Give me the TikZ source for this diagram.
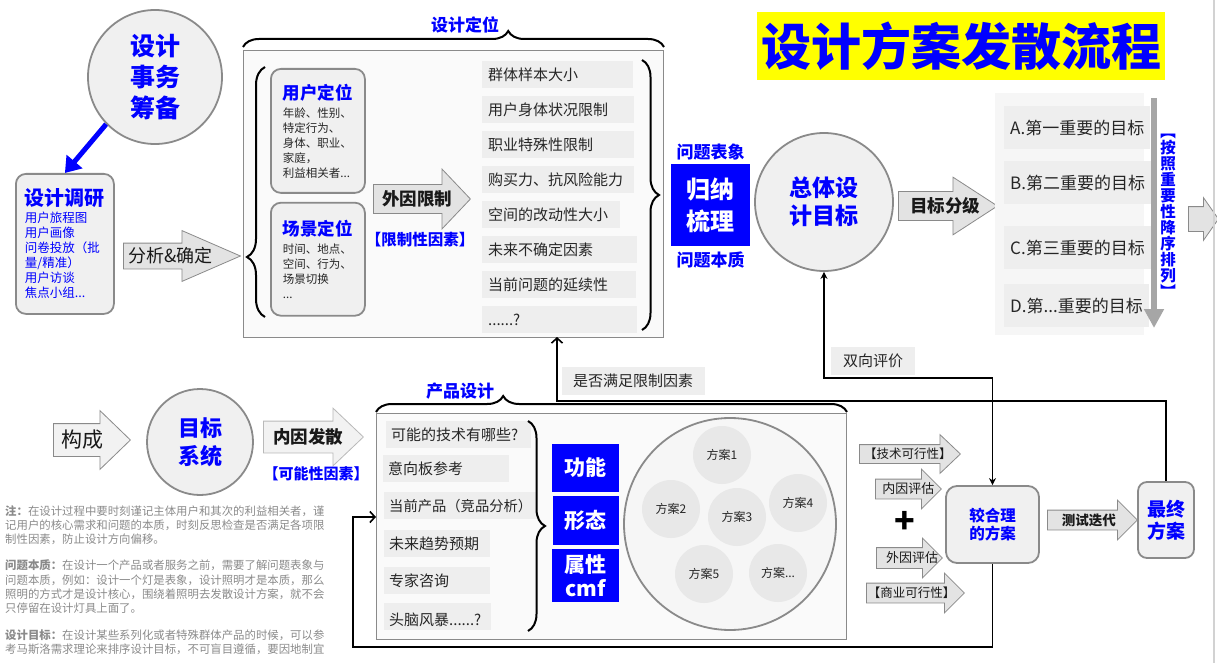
\documentclass[tikz,border=0pt]{standalone}
\usepackage{fontspec}
\setmainfont{Noto Sans CJK SC}
\usetikzlibrary{arrows.meta,positioning,shapes.arrows,decorations.pathreplacing,calc}

\definecolor{edgegray}{HTML}{8A8A8A}
\definecolor{boxgray}{HTML}{F0F0F0}
\definecolor{itemgray}{HTML}{EEEEEE}
\definecolor{panelgray}{HTML}{FAFAFA}
\definecolor{rankfill}{HTML}{F6F6F6}
\definecolor{arrowgray}{HTML}{E3E3E3}
\definecolor{lightarrow}{HTML}{F2F2F2}
\definecolor{sortgray}{HTML}{A6A6A6}
\definecolor{poolfill}{HTML}{F6F6F6}
\definecolor{optfill}{HTML}{E8E8E8}
\definecolor{notegray}{HTML}{8A8A8A}
\definecolor{hlyellow}{HTML}{FFFF00}

\newcommand{\fsz}[2]{\fontsize{#1}{#2}\selectfont}
\newcommand{\tdots}{.\kern0pt.\kern0pt.}

\begin{document}
\begin{tikzpicture}[
    x=1pt, y=-1pt,
    ring/.style={circle, draw=edgegray, line width=1.8pt, fill=boxgray,
                 align=center, text=blue, inner sep=0pt},
    rbox/.style={rectangle, rounded corners=10pt, draw=edgegray, line width=1.8pt,
                 fill=boxgray, align=left, anchor=north west, text=black!85},
    panel/.style={rectangle, draw=edgegray, line width=1pt, fill=panelgray, anchor=north west},
    item/.style={rectangle, fill=itemgray, anchor=north west, align=left, text=black!85,
                 font=\fsz{15}{18}, inner xsep=6pt, inner ysep=0pt},
    bluebox/.style={rectangle, fill=blue, text=white, align=center},
    fatarr/.style n args={3}{single arrow, draw=edgegray, line width=0.8pt, fill=arrowgray,
                 inner sep=0pt, inner ysep=#1, single arrow head extend=#2,
                 single arrow tip angle=#3, anchor=tail},
    arrtxt/.style={inner sep=0pt, text=black!90},
    brc/.style args={#1/#2}{decorate, decoration={brace, amplitude=#1, aspect=#2}, line width=2pt},
    link/.style={line width=1.6pt, -{Stealth[length=7pt, width=7pt]}},
    backlink/.style={line width=1.6pt, -{Straight Barb[length=5pt, width=11pt]}},
    tag/.style={rectangle, fill=itemgray, font=\fsz{15}{18}, minimum height=28pt, text=black!85}
]
    \useasboundingbox (0,0) rectangle (1217,663);

    % title
    \node[fill=hlyellow, minimum width=408pt, minimum height=68pt, inner sep=0pt, text=blue,
          font=\bfseries\fsz{50}{52}] (title) at (961,46) {设计方案发散流程};

    % preparation and research
    \node[ring, minimum size=134pt, font=\bfseries\fsz{25}{31}] (prep) at (155,77) {设计\\事务\\筹备};
    \node[rbox, minimum width=98pt, minimum height=140pt, text=blue, font=\fsz{12.5}{15},
          inner xsep=7pt] (survey) at (15,173)
          {{\bfseries\fsz{20}{24}设计调研}\\[2pt]用户旅程图\\用户画像\\问卷投放（批\\量/精准）\\用户访谈\\焦点小组\tdots};
    \draw[draw=blue, line width=5pt, -{Triangle[length=15pt, width=20pt]}] (prep.224) -- (survey.north);

    \node[fatarr={12.5pt}{12.5pt}{47}, minimum height=117pt] (analyze) at (123,256) {};
    \node[arrtxt, font=\fsz{18}{20}] (analyzetxt) at ($(analyze.tail)!0.4!(analyze.tip)$) {分析\&确定};

    % design positioning
    \node[panel, minimum width=420pt, minimum height=287pt] (posbox) at (243,50) {};
    \draw[brc=16pt/0.63] ([yshift=3pt]posbox.north west) -- ([yshift=3pt]posbox.north east);
    \node[text=blue, font=\bfseries\fsz{17}{20}, inner sep=0pt] (poslbl) at (465,25) {设计定位};

    \node[rbox, minimum width=93pt, minimum height=124pt, font=\fsz{11.5}{15}, inner xsep=12pt] (userpos) at (270,68)
          {{\color{blue}\bfseries\fsz{17.5}{21}用户定位}\\[3pt]年龄、性别、\\特定行为、\\身体、职业、\\家庭，\\利益相关者\tdots};
    \node[rbox, minimum width=94pt, minimum height=113pt, font=\fsz{11.5}{15}, inner xsep=12pt,
          below=8pt of userpos.south west, anchor=north west] (scenepos)
          {{\color{blue}\bfseries\fsz{17.5}{21}场景定位}\\[3pt]时间、地点、\\空间、行为、\\场景切换\\\tdots};
    \draw[brc=18pt/0.24] (265,317) -- (265,67);

    \node[fatarr={14pt}{15.5pt}{93}, minimum height=97pt] (extarr) at (373,199) {};
    \node[arrtxt, font=\bfseries\fsz{17.5}{20}] (exttxt) at ($(extarr.tail)!0.45!(extarr.tip)$) {外因限制};
    \node[text=blue, font=\bfseries\fsz{15.5}{18}, inner sep=0pt] (limittag) at (420,240) {【限制性因素】};

    \foreach \txt/\w [count=\k] in {群体样本大小/139pt, 用户身体状况限制/140pt, 职业特殊性限制/140pt,
        购买力、抗风险能力/140pt, 空间的改动性大小/126pt, 未来不确定因素/143pt,
        当前问题的延续性/142pt, \tdots\tdots?/143pt}
        \node[item, text width=\w, minimum height=27pt] (lim\k) at (482, 26+35*\k) {\txt};
    \draw[brc=17pt/0.5] (642,60) -- (642,330);

    % induction and overall goal
    \node[bluebox, minimum width=79pt, minimum height=82pt, font=\bfseries\fsz{24}{32}] (induce) at (710.5,205) {归纳\\梳理};
    \node[text=blue, font=\bfseries\fsz{17}{20}, inner sep=0pt, above=3pt of induce] (surface) {问题表象};
    \node[text=blue, font=\bfseries\fsz{17}{20}, inner sep=0pt, below=5pt of induce] (essence) {问题本质};

    \node[ring, minimum size=138pt, font=\bfseries\fsz{23}{28}] (goal) at (824,202) {总体设\\计目标};

    \node[fatarr={14pt}{14.5pt}{66}, minimum height=99pt] (rankarr) at (898,206) {};
    \node[arrtxt, font=\bfseries\fsz{17.5}{20}] (ranktxt) at ($(rankarr.tail)!0.47!(rankarr.tip)$) {目标分级};

    \node[rectangle, fill=rankfill, minimum width=149pt, minimum height=242pt, anchor=north west] (rankbox) at (995,93) {};
    \foreach \txt/\top [count=\k] in {A.第一重要的目标/106, B.第二重要的目标/161, C.第三重要的目标/226, D.第\tdots 重要的目标/284}
        \node[item, minimum width=132pt, minimum height=43pt, font=\fsz{17}{20}, align=center] (rank\k) at (1004,\top) {\txt};

    \coordinate (sorttop) at (1154,98);
    \coordinate (sortend) at (1154,328);
    \draw[line width=6pt, draw=sortgray, -{Triangle[length=19pt, width=19pt]}] (sorttop) -- (sortend);
    \node[text=blue, font=\bfseries\fsz{15.5}{16}, align=center, inner sep=0pt] (sorttxt) at (1168,216)
          {︻\\按\\照\\重\\要\\性\\降\\序\\排\\列\\︼};

    \node[fatarr={12pt}{9pt}{110}, minimum height=30pt] (nextarr) at (1188,219) {};
    \draw[gray!35, line width=1.5pt] (1214,0) -- (1214,663);

    % goal system
    \node[fatarr={16pt}{13pt}{88}, minimum height=77pt, fill=lightarrow] (composearr) at (53,440) {};
    \node[arrtxt, font=\fsz{21}{24}] (composetxt) at ($(composearr.tail)!0.38!(composearr.tip)$) {构成};
    \node[ring, minimum size=106pt, font=\bfseries\fsz{22}{28}] (system) at (200,442) {目标\\系统};
    \node[fatarr={15.5pt}{13pt}{87}, minimum height=100pt, fill=lightarrow, draw=edgegray!60] (innerarr) at (263,437) {};
    \node[arrtxt, font=\bfseries\fsz{17.5}{20}] (innertxt) at ($(innerarr.tail)!0.45!(innerarr.tip)$) {内因发散};
    \node[text=blue, font=\bfseries\fsz{15}{18}, inner sep=0pt] (possibletag) at (316,474) {【可能性因素】};

    \node[anchor=north west, inner sep=0pt, align=left, text=notegray, font=\fsz{11.4}{14.3}] (notes) at (5,505)
          {{\bfseries 注：}在设计过程中要时刻谨记主体用户和其次的利益相关者，谨\\
           记用户的核心需求和问题的本质，时刻反思检查是否满足各项限\\
           制性因素，防止设计方向偏移。\\[12pt]
           {\bfseries 问题本质：}在设计一个产品或者服务之前，需要了解问题表象与\\
           问题本质，例如：设计一个灯是表象，设计照明才是本质，那么\\
           照明的方式才是设计核心，围绕着照明去发散设计方案，就不会\\
           只停留在设计灯具上面了。\\[12pt]
           {\bfseries 设计目标：}在设计某些系列化或者特殊群体产品的时候，可以参\\
           考马斯洛需求理论来排序设计目标，不可盲目遵循，要因地制宜};

    % product design
    \node[panel, minimum width=470pt, minimum height=226pt] (prodbox) at (376,413) {};
    \draw[brc=16pt/0.27] ([yshift=1pt]prodbox.north west) -- ([yshift=1pt]prodbox.north east);
    \node[text=blue, font=\bfseries\fsz{17}{20}, inner sep=0pt] (prodlbl) at (460,391) {产品设计};

    \foreach \txt/\x/\y/\w [count=\k] in {可能的技术有哪些?/386/421/135pt, 意向板参考/383/455/116pt,
        {\fsz{14.3}{18}当前产品（竞品分析）}/384/492/143pt, 未来趋势预期/384/530/96pt, 专家咨询/384/567/96pt,
        \hspace{8pt}头脑风暴\tdots\tdots?/384/603/97pt}
        \node[item, text width=\w, minimum height=27pt, inner xsep=5pt] (idea\k) at (\x,\y) {\txt};
    \draw[brc=17pt/0.5] (528,421) -- (528,631);

    \node[bluebox, minimum width=67pt, minimum height=48pt, font=\bfseries\fsz{21}{24}] (func) at (585.5,468) {功能};
    \node[bluebox, minimum width=66pt, minimum height=49pt, font=\bfseries\fsz{21}{24}, below=4pt of func] (form) {形态};
    \node[bluebox, minimum width=67pt, minimum height=53pt, font=\bfseries\fsz{21}{24}, below=3pt of form] (attr) {属性\\cmf};

    \node[circle, draw=edgegray, line width=1.8pt, fill=poolfill, minimum size=212pt] (pool) at (730,524) {};
    \foreach \txt/\x/\y [count=\k] in {方案1/722/455, 方案2/671/509, 方案3/737/517,
        方案4/798/503, 方案5/704/574, 方案\tdots/778/573}
        \node[circle, fill=optfill, minimum size=58pt, inner sep=0pt, font=\fsz{12}{14}, text=black!85] (opt\k) at (\x,\y) {\txt};

    % evaluation
    \node[fatarr={9pt}{10pt}{87}, minimum height=101pt] (techarr) at (859,454) {};
    \node[arrtxt, font=\fsz{12.5}{15}] (techtxt) at ($(techarr.tail)!0.48!(techarr.tip)$) {【技术可行性】};
    \node[fatarr={9.5pt}{10pt}{90}, minimum height=66pt] (innerevalarr) at (875,489) {};
    \node[arrtxt, font=\fsz{13}{15}] (innerevaltxt) at ($(innerevalarr.tail)!0.5!(innerevalarr.tip)$) {内因评估};
    \node[font=\bfseries\fsz{34}{36}, inner sep=0pt] (plus) at (905,522) {+};
    \node[fatarr={10pt}{9.5pt}{90}, minimum height=66pt] (outerevalarr) at (876,558) {};
    \node[arrtxt, font=\fsz{13}{15}] (outerevaltxt) at ($(outerevalarr.tail)!0.54!(outerevalarr.tip)$) {外因评估};
    \node[fatarr={9.5pt}{10pt}{90}, minimum height=98pt] (bizarr) at (866,593) {};
    \node[arrtxt, font=\fsz{12.5}{15}] (biztxt) at ($(bizarr.tail)!0.46!(bizarr.tip)$) {【商业可行性】};

    \node[rbox, anchor=center, align=center, minimum width=93pt, minimum height=77pt, text=blue,
          font=\bfseries\fsz{15.5}{18.5}, rounded corners=11pt] (reason) at (992.5,524.5) {较合理\\的方案};
    \node[fatarr={9.5pt}{10pt}{90}, minimum height=90pt] (testarr) at (1047,520) {};
    \node[arrtxt, font=\bfseries\fsz{13.5}{16}] (testtxt) at ($(testarr.tail)!0.46!(testarr.tip)$) {测试迭代};
    \node[rbox, anchor=center, align=center, minimum width=56pt, minimum height=76pt, text=blue,
          font=\bfseries\fsz{19}{22}, rounded corners=9pt] (final) at (1166,520) {最终\\方案};

    % feedback loops
    \coordinate (loopcorner) at (353,647);
    \coordinate (prodin) at (376,517);
    \draw[backlink] (reason.south) |- (loopcorner) |- (prodin);

    \coordinate (checkcorner) at (557,401);
    \coordinate (posin) at (557,337);
    \draw[backlink] (final.north) |- (checkcorner) -- (posin);
    \node[tag, minimum width=143pt] (checktag) at (633,381) {是否满足限制因素};

    \coordinate (evalcorner) at (824,378);
    \draw[line width=1.6pt, {Stealth[length=7pt, width=7pt]}-{Stealth[length=7pt, width=7pt]}]
        (goal.south) |- (evalcorner) -| (reason.north);
    \node[tag, minimum width=84pt] (evaltag) at (873,361) {双向评价};
\end{tikzpicture}
\end{document}
